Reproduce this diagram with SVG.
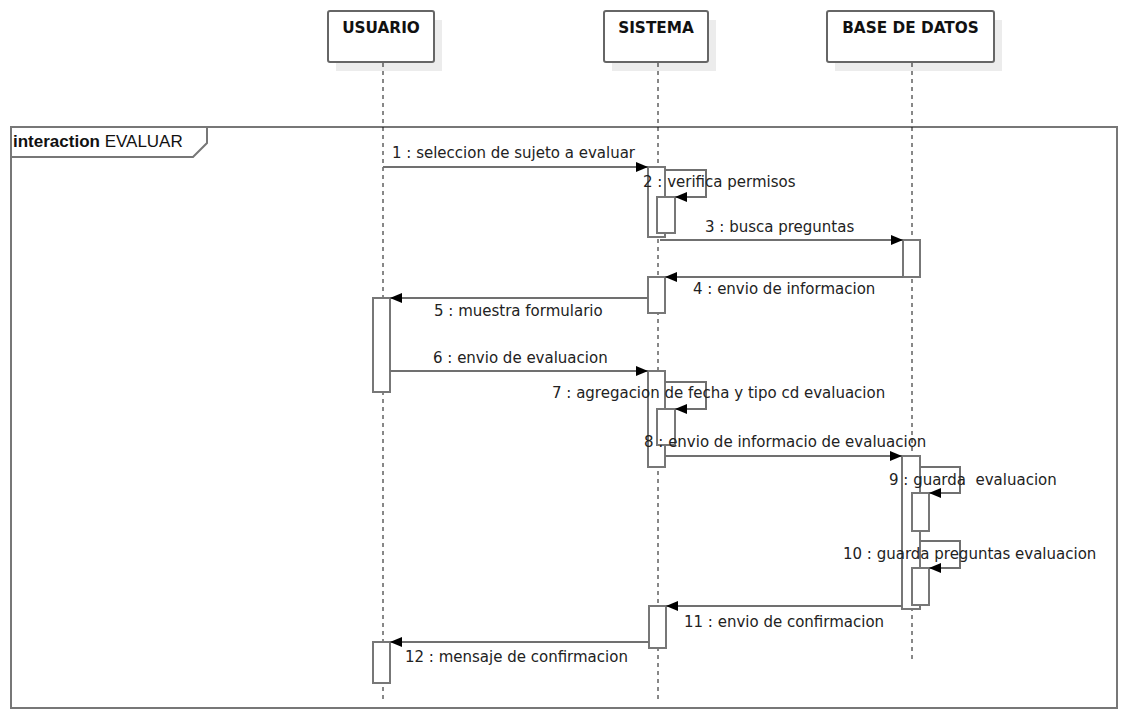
<svg xmlns="http://www.w3.org/2000/svg" width="1125" height="710" viewBox="0 0 1125 710">
<defs>
<marker id="ah" markerWidth="12" markerHeight="10" refX="12" refY="5" orient="auto" markerUnits="userSpaceOnUse">
<path d="M0,0 L12,5 L0,10 z" fill="#000"/>
</marker>
<style>
.hdr{fill:#fff;stroke:#666;stroke-width:2}
.shd{fill:#ececec;stroke:none}
.ht{font-family:"DejaVu Sans",sans-serif;font-weight:bold;font-size:15.3px;fill:#111;text-anchor:middle}
.life{stroke:#111;stroke-width:1;stroke-dasharray:4 4;fill:none}
.act{fill:#fff;stroke:#777;stroke-width:2}
.msg{fill:none;stroke:#707070;stroke-width:2;marker-end:url(#ah)}
.lbl{font-family:"DejaVu Sans",sans-serif;font-size:15px;fill:#222;white-space:pre}
.frm{fill:none;stroke:#777;stroke-width:2}
</style>
</defs>
<rect width="1125" height="710" fill="#fff"/>
<g id="frame">
<rect class="frm" x="11" y="127" width="1106" height="581"/>
<path class="frm" d="M11,157 H193 L207,143 V127"/>
<text x="13" y="147" font-family="Liberation Sans, sans-serif" font-size="17" fill="#111"><tspan font-weight="bold">interaction</tspan> EVALUAR</text>
</g>
<g id="usuario">
<rect class="shd" x="336" y="20" width="106" height="51"/>
<rect class="hdr" x="328" y="11" width="106" height="51" rx="2"/>
<text class="ht" x="381" y="33">USUARIO</text>
<line class="life" x1="383" y1="63" x2="383" y2="699"/>
<rect class="act" x="373" y="298" width="17" height="94"/>
<rect class="act" x="373" y="642" width="17" height="41"/>
</g>
<g id="sistema">
<rect class="shd" x="612" y="20" width="104" height="51"/>
<rect class="hdr" x="604" y="11" width="104" height="51" rx="2"/>
<text class="ht" x="656" y="33">SISTEMA</text>
<line class="life" x1="658" y1="63" x2="658" y2="699"/>
<rect class="act" x="648" y="167" width="17" height="70"/>
<rect class="act" x="657" y="197" width="18" height="36"/>
<rect class="act" x="648" y="277" width="17" height="36"/>
<rect class="act" x="648" y="371" width="17" height="96"/>
<rect class="act" x="657" y="409" width="18" height="36"/>
<rect class="act" x="649" y="606" width="17" height="42"/>
</g>
<g id="base_de_datos">
<rect class="shd" x="835" y="20" width="167" height="51"/>
<rect class="hdr" x="827" y="11" width="167" height="51" rx="2"/>
<text class="ht" x="910.5" y="33">BASE DE DATOS</text>
<line class="life" x1="912" y1="63" x2="912" y2="662"/>
<rect class="act" x="903" y="240" width="17" height="37"/>
<rect class="act" x="902" y="456" width="18" height="153"/>
<rect class="act" x="912" y="493" width="17" height="38"/>
<rect class="act" x="912" y="568" width="17" height="37"/>
</g>
<g id="connectors">
<path class="msg" d="M383,167 H648"/>
<path class="msg" d="M665,170 H706 V197 H675"/>
<path class="msg" d="M660,240 H903"/>
<path class="msg" d="M903,277 H665"/>
<path class="msg" d="M648,298 H390"/>
<path class="msg" d="M390,371 H648"/>
<path class="msg" d="M665,382 H706 V409 H675"/>
<path class="msg" d="M665,456 H902"/>
<path class="msg" d="M920,467 H960 V493 H929"/>
<path class="msg" d="M920,541 H960 V568 H929"/>
<path class="msg" d="M902,606 H666"/>
<path class="msg" d="M649,642 H390"/>
<text class="lbl" x="392" y="158">1 : seleccion de sujeto a evaluar</text>
<text class="lbl" x="643" y="187">2 : verifica permisos</text>
<text class="lbl" x="705" y="232">3 : busca preguntas</text>
<text class="lbl" x="693" y="294">4 : envio de informacion</text>
<text class="lbl" x="434" y="316">5 : muestra formulario</text>
<text class="lbl" x="433" y="363">6 : envio de evaluacion</text>
<text class="lbl" x="552" y="398">7 : agregacion de fecha y tipo cd evaluacion</text>
<text class="lbl" x="644" y="447">8 : envio de informacio de evaluacion</text>
<text class="lbl" x="889" y="485">9 : guarda  evaluacion</text>
<text class="lbl" x="843" y="559">10 : guarda preguntas evaluacion</text>
<text class="lbl" x="684" y="627">11 : envio de confirmacion</text>
<text class="lbl" x="405" y="662">12 : mensaje de confirmacion</text>
</g>
</svg>
